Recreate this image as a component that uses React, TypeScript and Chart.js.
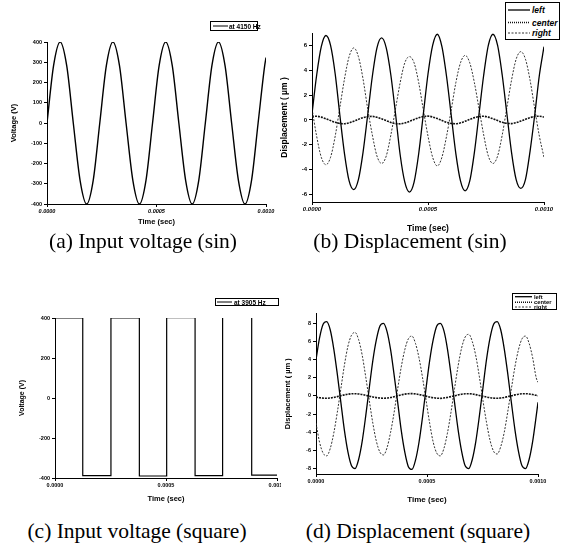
import React, { useEffect, useRef } from "react";
import { Chart, registerables } from "chart.js";
Chart.register(...registerables);

// ---------- shared ----------
const X_TICK_VALUES = [0, 500, 1000]; // microseconds
const X_TICK_LABELS = ["0.0000", "0.0005", "0.0010"];

// ---------- (a) sine input, 4150 Hz ----------
const A_TIME = [0, 30, 60, 90, 120, 151, 181, 211, 241, 271, 301, 331, 361, 392, 422, 452, 482, 512, 542, 572, 602, 633, 663, 693, 723, 753, 783, 813, 843, 874, 904, 934, 964, 994, 1000];
const A_VOLT = [0, 283, 400, 283, 0, -283, -400, -283, 0, 283, 400, 283, 0, -283, -400, -283, 0, 283, 400, 283, 0, -283, -400, -283, 0, 283, 400, 283, 0, -283, -400, -283, 0, 283, 323];
const A_TICKS = [-400, -300, -200, -100, 0, 100, 200, 300, 400];

// ---------- (b) displacement, sine ----------
const B_TIME = [0, 20, 40, 60, 80, 100, 120, 140, 160, 180, 200, 220, 240, 260, 280, 300, 320, 340, 360, 380, 400, 420, 440, 460, 480, 500, 520, 540, 560, 580, 600, 620, 640, 660, 680, 700, 720, 740, 760, 780, 800, 820, 840, 860, 880, 900, 920, 940, 960, 980, 1000];
const B_LEFT = [
  0.5, 3.6, 5.9, 6.8, 6.0, 3.7, 0.4, -2.7, -4.9, -5.6, -4.8, -2.6,
  0.4, 3.5, 5.8, 6.6, 5.8, 3.6, 0.5, -2.8, -5.0, -5.8, -5.0, -2.7,
  0.5, 3.7, 6.0, 6.9, 5.9, 3.5, 0.4, -2.7, -4.9, -5.7, -4.9, -2.6,
  0.5, 3.6, 6.0, 6.9, 6.0, 3.6, 0.5, -2.6, -4.8, -5.5, -4.8, -2.5,
  0.4, 3.6, 5.9,
];
const B_CENTER = [
  0.28, 0.30, 0.23, 0.10, -0.05, -0.19, -0.28, -0.30, -0.23, -0.10, 0.05, 0.19,
  0.27, 0.29, 0.22, 0.09, -0.05, -0.20, -0.29, -0.31, -0.24, -0.11, 0.04, 0.18,
  0.28, 0.31, 0.24, 0.11, -0.04, -0.19, -0.28, -0.30, -0.23, -0.10, 0.05, 0.19,
  0.28, 0.30, 0.23, 0.10, -0.05, -0.19, -0.27, -0.29, -0.22, -0.09, 0.05, 0.19,
  0.28, 0.30, 0.24,
];
const B_RIGHT = [
  0.9, -1.3, -3.0, -3.6, -3.0, -1.3, 1.0, 3.3, 5.1, 5.8, 5.1, 3.3,
  0.9, -1.2, -2.9, -3.5, -2.9, -1.2, 0.9, 3.0, 4.6, 5.1, 4.6, 3.0,
  0.8, -1.3, -3.0, -3.7, -3.0, -1.3, 0.8, 3.0, 4.6, 5.2, 4.6, 3.0,
  0.9, -1.2, -2.9, -3.5, -2.9, -1.2, 1.0, 3.2, 4.9, 5.5, 4.9, 3.2,
  0.9, -1.3, -3.0,
];

// ---------- (c) square input, 3905 Hz ----------
const C_TIME = [0, 125, 125, 252, 252, 380, 380, 503, 503, 631, 631, 755, 755, 886, 886, 1000];
const C_VOLT = [400, 400, -388, -388, 400, 400, -390, -390, 402, 402, -388, -388, 405, 405, -386, -386];

// ---------- (d) displacement, square ----------
const D_TIME = [0, 16, 32, 48, 64, 80, 96, 112, 128, 144, 160, 176, 192, 208, 224, 240, 256, 272, 288, 304, 320, 336, 352, 368, 384, 400, 416, 432, 448, 464, 480, 496, 512, 528, 544, 560, 576, 592, 608, 624, 640, 656, 672, 688, 704, 720, 736, 752, 768, 784, 800, 816, 832, 848, 864, 880, 896, 912, 928, 944, 960, 976, 992, 1000];
const D_LEFT = [
  4.0, 6.4, 7.9, 8.2, 7.3, 5.2, 2.4, -0.7, -3.8, -6.2, -7.7, -8.0, -7.0, -5.0, -2.2, 0.9,
  3.9, 6.2, 7.7, 8.0, 7.1, 5.1, 2.3, -0.7, -3.8, -6.2, -7.8, -8.1, -7.1, -5.1, -2.3, 0.9,
  3.9, 6.2, 7.7, 8.0, 7.2, 5.2, 2.4, -0.7, -3.7, -6.1, -7.7, -8.0, -7.0, -5.0, -2.2, 0.9,
  4.0, 6.4, 7.9, 8.2, 7.3, 5.2, 2.4, -0.7, -3.7, -6.1, -7.7, -8.0, -7.0, -5.0, -2.2,
  -0.7,
];
const D_CENTER = [
  -0.12, -0.19, -0.24, -0.25, -0.22, -0.16, -0.07, 0.02, 0.12, 0.19, 0.24, 0.25, 0.22, 0.16, 0.07, -0.02,
  -0.11, -0.18, -0.23, -0.25, -0.23, -0.17, -0.08, 0.03, 0.13, 0.20, 0.25, 0.26, 0.23, 0.16, 0.07, -0.02,
  -0.12, -0.19, -0.24, -0.26, -0.22, -0.16, -0.07, 0.02, 0.12, 0.19, 0.24, 0.25, 0.22, 0.15, 0.06, -0.03,
  -0.12, -0.19, -0.24, -0.25, -0.22, -0.16, -0.07, 0.02, 0.12, 0.19, 0.24, 0.25, 0.22, 0.16, 0.07,
  0.02,
];
const D_RIGHT = [
  -3.0, -5.1, -6.3, -6.6, -5.8, -4.1, -1.8, 0.8, 3.4, 5.5, 6.7, 7.0, 6.2, 4.5, 2.1, -0.5,
  -3.0, -5.0, -6.2, -6.5, -5.7, -4.0, -1.8, 0.8, 3.2, 5.1, 6.3, 6.6, 5.8, 4.2, 2.0, -0.5,
  -3.0, -5.1, -6.3, -6.6, -5.8, -4.1, -1.8, 0.8, 3.3, 5.3, 6.5, 6.8, 6.0, 4.4, 2.1, -0.5,
  -2.9, -4.9, -6.1, -6.4, -5.6, -4.0, -1.7, 0.8, 3.2, 5.1, 6.3, 6.6, 5.8, 4.2, 2.0,
  1.5,
];

const SERIES_NAMES = ["left", "center", "right"];

const SANS = "'Liberation Sans', Arial, sans-serif";
const SERIF = "'Liberation Serif', 'Times New Roman', serif";

function pts(xs: number[], ys: number[]) {
  return xs.map((x, i) => ({ x, y: ys[i] }));
}

type Cfg = {
  datasets: any[];
  yMin: number;
  yMax: number;
  yStep: number;
  yTitle: string;
  yTitleSize: number;
  yTitlePad: number;
  xTitleSize: number;
  xTitlePad: number;
  yAxisWidth: number;
  xAxisHeight: number;
  padTop: number;
  padRight: number;
  tickSize: number;
  xItalic: boolean;
};

function makeConfig(c: Cfg): any {
  return {
    type: "line",
    data: { datasets: c.datasets },
    options: {
      responsive: false,
      animation: false,
      events: [],
      layout: { padding: { left: 0, top: c.padTop, right: c.padRight, bottom: 0 } },
      plugins: { legend: { display: false }, tooltip: { enabled: false } },
      scales: {
        x: {
          type: "linear",
          min: 0,
          max: 1000,
          afterBuildTicks: (s: any) => {
            s.ticks = X_TICK_VALUES.map((v) => ({ value: v }));
          },
          ticks: {
            autoSkip: false,
            maxRotation: 0,
            padding: 1,
            color: "#000",
            font: { family: SANS, size: c.tickSize, weight: "bold", style: c.xItalic ? "italic" : "normal" },
            callback: (v: number) => X_TICK_LABELS[X_TICK_VALUES.indexOf(Math.round(v))] ?? "",
          },
          grid: { drawOnChartArea: false, drawTicks: true, tickLength: 3, color: "#000" },
          border: { display: true, color: "#000", width: 1 },
          title: {
            display: true,
            text: "Time (sec)",
            color: "#000",
            font: { family: SANS, size: c.xTitleSize, weight: "bold" },
            padding: { top: 0, bottom: c.xTitlePad },
          },
          afterFit: (s: any) => {
            s.height = c.xAxisHeight;
            s.paddingLeft = 0;
            s.paddingRight = 0;
          },
        },
        y: {
          type: "linear",
          min: c.yMin,
          max: c.yMax,
          ticks: {
            stepSize: c.yStep,
            includeBounds: false,
            padding: 2,
            color: "#000",
            font: { family: SANS, size: c.tickSize, weight: "bold" },
          },
          grid: { drawOnChartArea: false, drawTicks: true, tickLength: 3, color: "#000" },
          border: { display: true, color: "#000", width: 1 },
          title: {
            display: true,
            text: c.yTitle,
            color: "#000",
            font: { family: SANS, size: c.yTitleSize, weight: "bold" },
            padding: { top: c.yTitlePad, bottom: 0 },
          },
          afterFit: (s: any) => {
            s.width = c.yAxisWidth;
            s.paddingTop = 0;
            s.paddingBottom = 0;
          },
        },
      },
    },
  };
}

function Panel({ left, top, width, height, config }: any) {
  const ref = useRef<HTMLCanvasElement>(null);
  useEffect(() => {
    const chart = new Chart(ref.current as HTMLCanvasElement, config);
    return () => chart.destroy();
  }, []);
  return (
    <canvas
      ref={ref}
      width={width}
      height={height}
      style={{ position: "absolute", left, top, width, height }}
    />
  );
}

type LegendEntry = { label: string; dash: string; width: number; color: string };

function Legend({ left, top, width, height, entries, rowsY, sampleX1, sampleX2, textX, fontSize, italic }: any) {
  return (
    <svg
      width={width}
      height={height}
      style={{ position: "absolute", left, top, overflow: "visible" }}
    >
      <rect x={0.5} y={0.5} width={width - 1} height={height - 1} fill="#fff" stroke="#000" strokeWidth={1} />
      {entries.map((e: LegendEntry, i: number) => (
        <g key={i}>
          <line
            x1={sampleX1}
            x2={sampleX2}
            y1={rowsY[i]}
            y2={rowsY[i]}
            stroke={e.color}
            strokeWidth={e.width}
            strokeDasharray={e.dash}
          />
          <text
            x={textX}
            y={rowsY[i]}
            dominantBaseline="central"
            fontFamily={SANS}
            fontWeight="bold"
            fontStyle={italic ? "italic" : "normal"}
            fontSize={fontSize}
            fill="#000"
          >
            {e.label}
          </text>
        </g>
      ))}
    </svg>
  );
}

function Caption({ x, y, text }: any) {
  return (
    <div
      style={{
        position: "absolute",
        left: x,
        top: y,
        transform: "translate(-50%, -50%)",
        whiteSpace: "nowrap",
        fontFamily: SERIF,
        fontSize: 21.5,
        color: "#000",
        lineHeight: 1,
      }}
    >
      {text}
    </div>
  );
}

const LEFT_STYLE = { color: "#000", width: 1.3, dash: "" };
const CENTER_STYLE = { color: "#111", width: 1.6, dash: "1.5 1" };
const RIGHT_STYLE = { color: "#333", width: 1, dash: "2 1.5" };

function dispDatasets(time: number[], left: number[], center: number[], right: number[]) {
  return [
    {
      label: SERIES_NAMES[0],
      data: pts(time, left),
      borderColor: LEFT_STYLE.color,
      borderWidth: LEFT_STYLE.width,
      pointRadius: 0,
      cubicInterpolationMode: "monotone",
      fill: false,
    },
    {
      label: SERIES_NAMES[2],
      data: pts(time, right),
      borderColor: RIGHT_STYLE.color,
      borderWidth: RIGHT_STYLE.width,
      borderDash: [2, 1.5],
      pointRadius: 0,
      cubicInterpolationMode: "monotone",
      fill: false,
    },
    {
      label: SERIES_NAMES[1],
      data: pts(time, center),
      borderColor: CENTER_STYLE.color,
      borderWidth: CENTER_STYLE.width,
      borderDash: [2, 1],
      pointRadius: 0,
      cubicInterpolationMode: "monotone",
      fill: false,
    },
  ];
}

const configA = makeConfig({
  datasets: [
    {
      label: "at 4150 Hz",
      data: pts(A_TIME, A_VOLT),
      borderColor: "#000",
      borderWidth: 1.4,
      pointRadius: 0,
      cubicInterpolationMode: "monotone",
      fill: false,
    },
  ],
  yMin: A_TICKS[0],
  yMax: A_TICKS[A_TICKS.length - 1],
  yStep: 100,
  yTitle: "Voltage (V)",
  yTitleSize: 7.5,
  yTitlePad: 9,
  xTitleSize: 7.5,
  xTitlePad: 3.5,
  yAxisWidth: 47,
  xAxisHeight: 26,
  padTop: 42,
  padRight: 14,
  tickSize: 5.5,
  xItalic: true,
});

const configB = makeConfig({
  datasets: dispDatasets(B_TIME, B_LEFT, B_CENTER, B_RIGHT),
  yMin: -6.6,
  yMax: 7,
  yStep: 2,
  yTitle: "Displacement ( \u00b5m )",
  yTitleSize: 8.5,
  yTitlePad: 0,
  xTitleSize: 8.5,
  xTitlePad: 6,
  yAxisWidth: 32,
  xAxisHeight: 38,
  padTop: 33,
  padRight: 17,
  tickSize: 6,
  xItalic: true,
});

const configC = makeConfig({
  datasets: [
    {
      label: "at 3905 Hz",
      data: pts(C_TIME, C_VOLT),
      borderColor: "#000",
      borderWidth: 1.2,
      pointRadius: 0,
      fill: false,
    },
  ],
  yMin: -400,
  yMax: 400,
  yStep: 200,
  yTitle: "Voltage (V)",
  yTitleSize: 7,
  yTitlePad: 17.8,
  xTitleSize: 7.5,
  xTitlePad: 6.5,
  yAxisWidth: 55,
  xAxisHeight: 32,
  padTop: 58,
  padRight: 4,
  tickSize: 5.5,
  xItalic: false,
});

const configD = makeConfig({
  datasets: dispDatasets(D_TIME, D_LEFT, D_CENTER, D_RIGHT),
  yMin: -8.6,
  yMax: 9.1,
  yStep: 2,
  yTitle: "Displacement ( \u00b5m )",
  yTitleSize: 7.5,
  yTitlePad: 0,
  xTitleSize: 8,
  xTitlePad: 5.5,
  yAxisWidth: 33,
  xAxisHeight: 36,
  padTop: 53.4,
  padRight: 23,
  tickSize: 5.5,
  xItalic: false,
});

const dispLegend: LegendEntry[] = [
  { label: SERIES_NAMES[0], ...LEFT_STYLE },
  { label: SERIES_NAMES[1], ...CENTER_STYLE, dash: "1 1" },
  { label: SERIES_NAMES[2], ...RIGHT_STYLE },
];

export default function App() {
  return (
    <div
      style={{
        position: "absolute",
        left: 0,
        top: 0,
        width: 561,
        height: 553,
        background: "#fff",
        overflow: "hidden",
      }}
    >
      <Panel left={0} top={0} width={280} height={230} config={configA} />
      <Panel left={280} top={0} width={281} height={240} config={configB} />
      <Panel left={0} top={260} width={281} height={250} config={configC} />
      <Panel left={283} top={260} width={278} height={250} config={configD} />

      <Legend
        left={210}
        top={21}
        width={48}
        height={10}
        entries={[{ label: "at 4150 Hz", color: "#000", width: 1, dash: "" }]}
        rowsY={[5]}
        sampleX1={3}
        sampleX2={18}
        textX={19}
        fontSize={6.5}
        italic={false}
      />
      <Legend
        left={505}
        top={2}
        width={55}
        height={38}
        entries={dispLegend}
        rowsY={[8, 20.5, 31]}
        sampleX1={3}
        sampleX2={25}
        textX={27}
        fontSize={8.5}
        italic={true}
      />
      <Legend
        left={215}
        top={298}
        width={64}
        height={8}
        entries={[{ label: "at 3905 Hz", color: "#000", width: 1, dash: "" }]}
        rowsY={[4]}
        sampleX1={2}
        sampleX2={17}
        textX={19}
        fontSize={6.5}
        italic={false}
      />
      <Legend
        left={512}
        top={293}
        width={45}
        height={17}
        entries={dispLegend}
        rowsY={[3.7, 9.2, 14]}
        sampleX1={3}
        sampleX2={20}
        textX={22}
        fontSize={5.8}
        italic={false}
      />

      <Caption x={143} y={242} text="(a) Input voltage (sin)" />
      <Caption x={410} y={242} text="(b) Displacement (sin)" />
      <Caption x={137} y={532} text="(c) Input voltage (square)" />
      <Caption x={418} y={532} text="(d) Displacement (square)" />
    </div>
  );
}
